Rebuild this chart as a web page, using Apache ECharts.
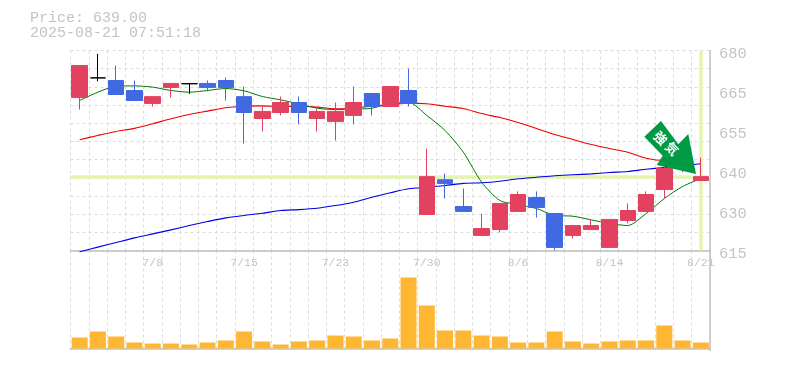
<!DOCTYPE html>
<html><head><meta charset="utf-8">
<style>html,body{margin:0;padding:0;background:#fff}#c{width:785px;height:370px}</style>
<script src="https://cdn.jsdelivr.net/npm/echarts@6/dist/echarts.min.js"></script>
</head><body><div id="c"></div>
<script>
const categories=['7/1','7/2','7/3','7/4','7/8','7/9','7/10','7/11','7/14','7/15','7/16','7/17','7/18','7/22','7/23','7/24','7/25','7/28','7/29','7/30','7/31','8/1','8/4','8/5','8/6','8/7','8/8','8/12','8/13','8/14','8/15','8/18','8/19','8/20','8/21'];
const showLabels=[4,9,14,19,24,29,34];
// open, close, low, high
const candles=[
[664.7,675.1,660.8,675.1],[671.1,671.1,670.0,678.9],[670.25,665.7,665.7,675.1],[667,663.75,663.75,670.25],
[662.8,665,661.8,665],[668,669.3,664.7,669.3],[669.2,669.2,665.9,669.2],[669.3,668,666.7,670.25],
[670.25,668,663.75,671.2],[665,659.85,649.8,668.3],[657.9,660.2,653.7,662.1],[659.85,663.1,658.9,665.05],
[663.1,659.85,656,665.05],[657.9,660.2,653.7,661.15],[656.9,660.2,650.75,663.1],[658.9,663.1,656,668.3],
[666,661.8,658.9,666],[661.8,668.3,661.8,668.3],[667,662.8,661.8,674.15],[626.7,639,626.7,648.15],
[638,636.8,631.9,640],[629.3,627.7,627.7,635.15],[619.9,622.15,619.9,627],[621.8,630.3,620.85,630.3],
[627.7,633.2,627.7,634.2],[632.2,629,625.7,634.2],[627,616,615,627],[619.9,623.1,618.9,623.1],
[621.8,623.1,621.8,625.1],[616,625.1,616,625.1],[624.75,628,623.8,630.3],[627.7,633.2,627.7,634.2],
[634.8,641.65,631.9,642.6],[642,644,640.5,645],[637.75,639,637.75,645.2]];
const volumes=[33,51,36,18,15,15,12,18,24,51,21,12,21,24,39,36,24,30,213,129,54,54,39,36,18,18,51,21,15,21,24,24,69,24,18];
const shortAvg=[663.75,666.45,668.4,668.5,668.1,667,666.45,667,667.65,666.9,665.05,663.95,662.65,661.25,660.8,660.9,661.25,662.8,663.2,658.9,654,646.95,637.2,631.25,629.95,628.65,626.4,626.15,624.95,623.8,623.1,627,631.9,635.8,638.4];
const midAvg=[651,652.4,653.7,654.7,656.2,657.8,659.2,660.3,661.4,661.9,662,661.8,661.9,661.6,661.05,661.25,661.9,662.35,662.9,662.7,661.9,661.15,659.5,658.2,656.6,654.65,652.7,651.1,649.45,648.15,646.95,645,644.25,644.25,null];
const longAvg=[614.6,616.1,617.6,619.1,620.4,621.7,623.1,624.4,625.6,626.4,627.1,628,628.3,628.75,629.6,630.7,632.3,633.75,635.05,635.6,636.1,636.8,637,637.5,638.3,638.8,639.3,639.6,639.9,640.35,640.7,641.4,642,642.6,643.2];
const priceTicks=[615,628,641,654,667,680];
const priceLabels=['615','630','640','655','665','680'];
const lastPrice=639;
const infoLines=['Price: 639.00','2025-08-21 07:51:18'];
const signalText='強気';

const grey='#c0c0c0', dash='#dcdcdc', txt='#c4c4c4', mono='"Liberation Mono", monospace';
const chart=echarts.init(document.getElementById('c'),null,{renderer:'canvas'});
const xCommon={type:'category',data:categories,boundaryGap:true,
  axisTick:{show:false},
  splitLine:{show:true,interval:0,lineStyle:{color:dash,type:[3,3],width:1}},
  axisLine:{show:true,lineStyle:{color:grey,width:1.5}}};
chart.setOption({
  animation:false,
  backgroundColor:'#fff',
  grid:[{left:70.5,right:75,top:50.5,height:200},{left:70.5,right:75,top:250.5,height:100}],
  xAxis:[
    Object.assign({},xCommon,{gridIndex:0,axisLabel:{show:true,margin:6,color:txt,fontFamily:mono,fontSize:11.5,
      interval:(i)=>showLabels.includes(i),showMaxLabel:true,hideOverlap:false}}),
    Object.assign({},xCommon,{gridIndex:1,axisLabel:{show:false}})
  ],
  yAxis:[
    {type:'value',gridIndex:0,min:615,max:680,position:'right',
     axisLine:{show:true,onZero:false,lineStyle:{color:grey,width:1.5}},axisTick:{show:false},splitLine:{show:false},
     axisLabel:{customValues:priceTicks,margin:9,color:txt,
       formatter:(v)=>'{p|'+priceLabels[priceTicks.indexOf(Math.round(v))]+'}',
       rich:{p:{color:txt,fontFamily:mono,fontSize:15.5,padding:[6,0,0,0]}}}},
    {type:'value',gridIndex:0,min:0,max:11,interval:1,position:'left',
     axisLine:{show:false},axisTick:{show:false},axisLabel:{show:false},
     splitLine:{show:true,lineStyle:{color:dash,type:[3,3],width:1}}},
    {type:'value',gridIndex:1,min:-6,max:294,position:'right',
     axisLine:{show:true,onZero:false,lineStyle:{color:grey,width:1.5}},axisTick:{show:false},axisLabel:{show:false},splitLine:{show:false}}
  ],
  series:[
    {type:'line',name:'long',xAxisIndex:0,yAxisIndex:0,data:longAvg,showSymbol:false,smooth:0.25,z:3,clip:false,
     lineStyle:{color:'#0000e6',width:1.1},
     markLine:{silent:true,symbol:'none',label:{show:false},animation:false,z:1,
       lineStyle:{color:'#e4f5b0',width:3.5,type:'solid'},
       data:[{yAxis:lastPrice},{xAxis:categories.length-1}]}},
    {type:'line',name:'mid',xAxisIndex:0,yAxisIndex:0,data:midAvg,showSymbol:false,smooth:0.25,z:3,lineStyle:{color:'#f00000',width:1.1}},
    {type:'line',name:'short',xAxisIndex:0,yAxisIndex:0,data:shortAvg,showSymbol:false,smooth:0.25,z:3,lineStyle:{color:'#007a00',width:1}},
    {type:'candlestick',xAxisIndex:0,yAxisIndex:0,data:candles,barWidth:16,z:4,clip:false,
     itemStyle:{color:'#e2425f',color0:'#4169e1',borderColor:'#e2425f',borderColor0:'#4169e1',borderColorDoji:'#000000',borderWidth:1}},
    {type:'bar',xAxisIndex:1,yAxisIndex:2,data:volumes,barWidth:16,z:3,itemStyle:{color:'#ffb733'}}
  ],
  graphic:[
    {type:'text',left:30,top:11,z:10,style:{text:infoLines[0],fill:txt,font:'15px '+mono}},
    {type:'text',left:30,top:26,z:10,style:{text:infoLines[1],fill:txt,font:'15px '+mono}},
    {type:'polygon',z:20,shape:{points:[[661,121],[644.3,136.7],[662.7,155.7],[656.7,165],[696,174],[688.3,134],[678.3,144.3]]},style:{fill:'#009944'}},
    {type:'text',z:21,x:660.5,y:138,rotation:-Math.PI/4,style:{text:signalText[0],fill:'#fff',font:'bold 13px "Noto Sans CJK JP"',align:'center',verticalAlign:'middle'}},
    {type:'text',z:21,x:672,y:148.5,rotation:-Math.PI/4,style:{text:signalText[1],fill:'#fff',font:'bold 13px "Noto Sans CJK JP"',align:'center',verticalAlign:'middle'}}
  ]
});
</script></body></html>
